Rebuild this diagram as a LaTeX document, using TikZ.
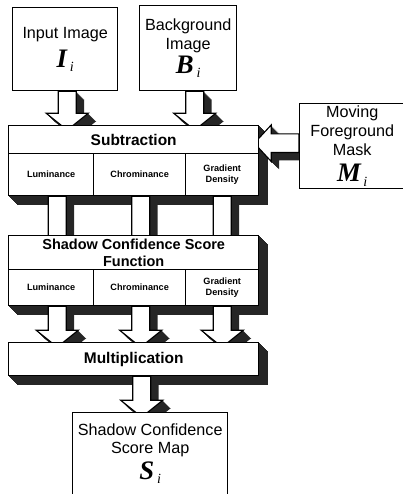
\documentclass[tikz,border=0pt]{standalone}
\usepackage{fontspec}
\setmainfont{Liberation Sans}
\newfontfamily\varfont{Liberation Serif}
\usepackage{tikz}
\usetikzlibrary{calc}

\pgfdeclarelayer{behind}
\pgfsetlayers{behind,main}

\newcommand{\px}{0.025cm}
\newcommand{\imgvar}[1]{{\varfont\fontsize{19}{19}\selectfont\bfseries\itshape #1}\,\raisebox{-3pt}{\varfont\fontsize{10}{10}\selectfont\itshape i}}

% shadow right of and below a block (north west of #1 to south east of #2)
\newcommand{\blkband}[2]{%
  \foreach \s in {1,...,9}
    \fill[blkshade] let \p1=(#1.north west), \p2=(#2.south east), \p3=(\s,\s) in
      (\x1+\x3,\y1+\y3) rectangle (\x2+\x3,\y2+\y3);}

% fat arrow pointing down, from #1 to the level of #2
\newcommand{\vblock}[2]{%
  \foreach \s in {1,...,8}
    \fill[arrshade] let \p1=#1, \p2=#2, \p3=(\s,\s) in
      (\x1-6.4pt+\x3,\y1+\y3) -- (\x1-6.4pt+\x3,\y2+8.4pt+\y3) -- (\x1-15pt+\x3,\y2+8.4pt+\y3)
      -- (\x1+\x3,\y2-3.6pt+\y3) -- (\x1+15pt+\x3,\y2+8.4pt+\y3) -- (\x1+6.4pt+\x3,\y2+8.4pt+\y3)
      -- (\x1+6.4pt+\x3,\y1+\y3) -- cycle;
  \filldraw[arrbody] let \p1=#1, \p2=#2 in
      (\x1-6.4pt,\y1) -- (\x1-6.4pt,\y2+8.4pt) -- (\x1-15pt,\y2+8.4pt) -- (\x1,\y2-3.6pt)
      -- (\x1+15pt,\y2+8.4pt) -- (\x1+6.4pt,\y2+8.4pt) -- (\x1+6.4pt,\y1) -- cycle;}

% fat arrow pointing left, from #1 to the level of #2
\newcommand{\hblock}[2]{%
  \foreach \s in {1,...,8}
    \fill[arrshade] let \p1=#1, \p2=#2, \p3=(\s,\s) in
      (\x1+\x3,\y1+6.6pt+\y3) -- (\x2+8.4pt+\x3,\y1+6.6pt+\y3) -- (\x2+8.4pt+\x3,\y1+13pt+\y3)
      -- (\x2-3.6pt+\x3,\y1+\y3) -- (\x2+8.4pt+\x3,\y1-13pt+\y3) -- (\x2+8.4pt+\x3,\y1-6.6pt+\y3)
      -- (\x1+\x3,\y1-6.6pt+\y3) -- cycle;
  \filldraw[arrbody] let \p1=#1, \p2=#2 in
      (\x1,\y1+6.6pt) -- (\x2+8.4pt,\y1+6.6pt) -- (\x2+8.4pt,\y1+13pt) -- (\x2-3.6pt,\y1)
      -- (\x2+8.4pt,\y1-13pt) -- (\x2+8.4pt,\y1-6.6pt) -- (\x1,\y1-6.6pt) -- cycle;}

\begin{document}
\begin{tikzpicture}[x=0.025cm, y=-0.025cm,
    blk/.style={draw, fill=white, line width=1pt, inner sep=0pt, anchor=north west, align=center},
    wh/.style 2 args={minimum width=#1*\px, minimum height=#2*\px},
    title/.style={font=\fontsize{11}{12.5}\selectfont\bfseries},
    cell/.style={font=\fontsize{6.5}{7.8}\selectfont\bfseries},
    plain/.style={font=\fontsize{11.5}{13.5}\selectfont},
    blkshade/.style={fill=black!85},
    arrshade/.style={fill=black!85},
    arrbody/.style={fill=white, draw=black, line width=0.8pt}]
    \useasboundingbox (0,0) rectangle (402,494);

    % inputs
    \node[blk, plain, wh={105}{83}] (inp) at (12,7) {Input Image\\[5pt]\imgvar{I}};
    \node[blk, plain, wh={97}{85}] (bg) at (139,5) {Background\\Image\\[1pt]\imgvar{B}};
    \node[blk, plain, wh={105}{85}] (mask) at (299,103) {Moving\\Foreground\\Mask\\[5pt]\imgvar{M}};

    % subtraction
    \node[blk, title, wh={250}{28}] (sub) at (8,125) {Subtraction};
    \node[blk, cell, wh={85}{42}] (lum1) at (8,153) {Luminance};
    \node[blk, cell, wh={92}{42}] (chr1) at (93,153) {Chrominance};
    \node[blk, cell, wh={73}{42}] (grd1) at (185,153) {Gradient\\Density};

    % score function
    \node[blk, title, font=\fontsize{10.3}{12}\selectfont\bfseries, wh={250}{34}] (scf) at (8,235)
        {Shadow Confidence Score\\Function};
    \node[blk, cell, wh={85}{36}] (lum2) at (8,269) {Luminance};
    \node[blk, cell, wh={92}{36}] (chr2) at (93,269) {Chrominance};
    \node[blk, cell, wh={73}{36}] (grd2) at (185,269) {Gradient\\Density};

    % multiplication and output
    \node[blk, title, wh={250}{33}] (mul) at (8,342) {Multiplication};
    \node[blk, wh={155}{100}] (map) at (72,412) {};
    \node[plain, align=center, anchor=north, inner sep=0pt] (maptxt) at ($(map.north)+(0,11)$)
        {Shadow Confidence\\Score Map\\[2pt]\imgvar{S}};

    \coordinate (ai) at ($(inp.south)+(2,0)$);
    \coordinate (ab) at ($(bg.south)+(6.5,0)$);
    \coordinate (am) at ($(mask.west)+(0,-3)$);
    \coordinate (al1) at ($(lum1.south)+(6,0)$);
    \coordinate (ac1) at ($(chr1.south)+(1,0)$);
    \coordinate (ag1) at (grd1.south);
    \coordinate (al2) at ($(lum2.south)+(6,0)$);
    \coordinate (ac2) at ($(chr2.south)+(1,0)$);
    \coordinate (ag2) at (grd2.south);
    \coordinate (ao) at ($(mul.south)+(8,0)$);

    \begin{pgfonlayer}{behind}
        \blkband{sub}{grd1}
        \blkband{scf}{grd2}
        \blkband{mul}{mul}
        \vblock{(ai)}{(sub.north)}
        \vblock{(ab)}{(sub.north)}
        \hblock{(am)}{(sub.east)}
        \vblock{(al1)}{(lum2.north)}
        \vblock{(ac1)}{(lum2.north)}
        \vblock{(ag1)}{(lum2.north)}
        \vblock{(al2)}{(mul.north)}
        \vblock{(ac2)}{(mul.north)}
        \vblock{(ag2)}{(mul.north)}
        \vblock{(ao)}{(map.north)}
    \end{pgfonlayer}
\end{tikzpicture}
\end{document}
